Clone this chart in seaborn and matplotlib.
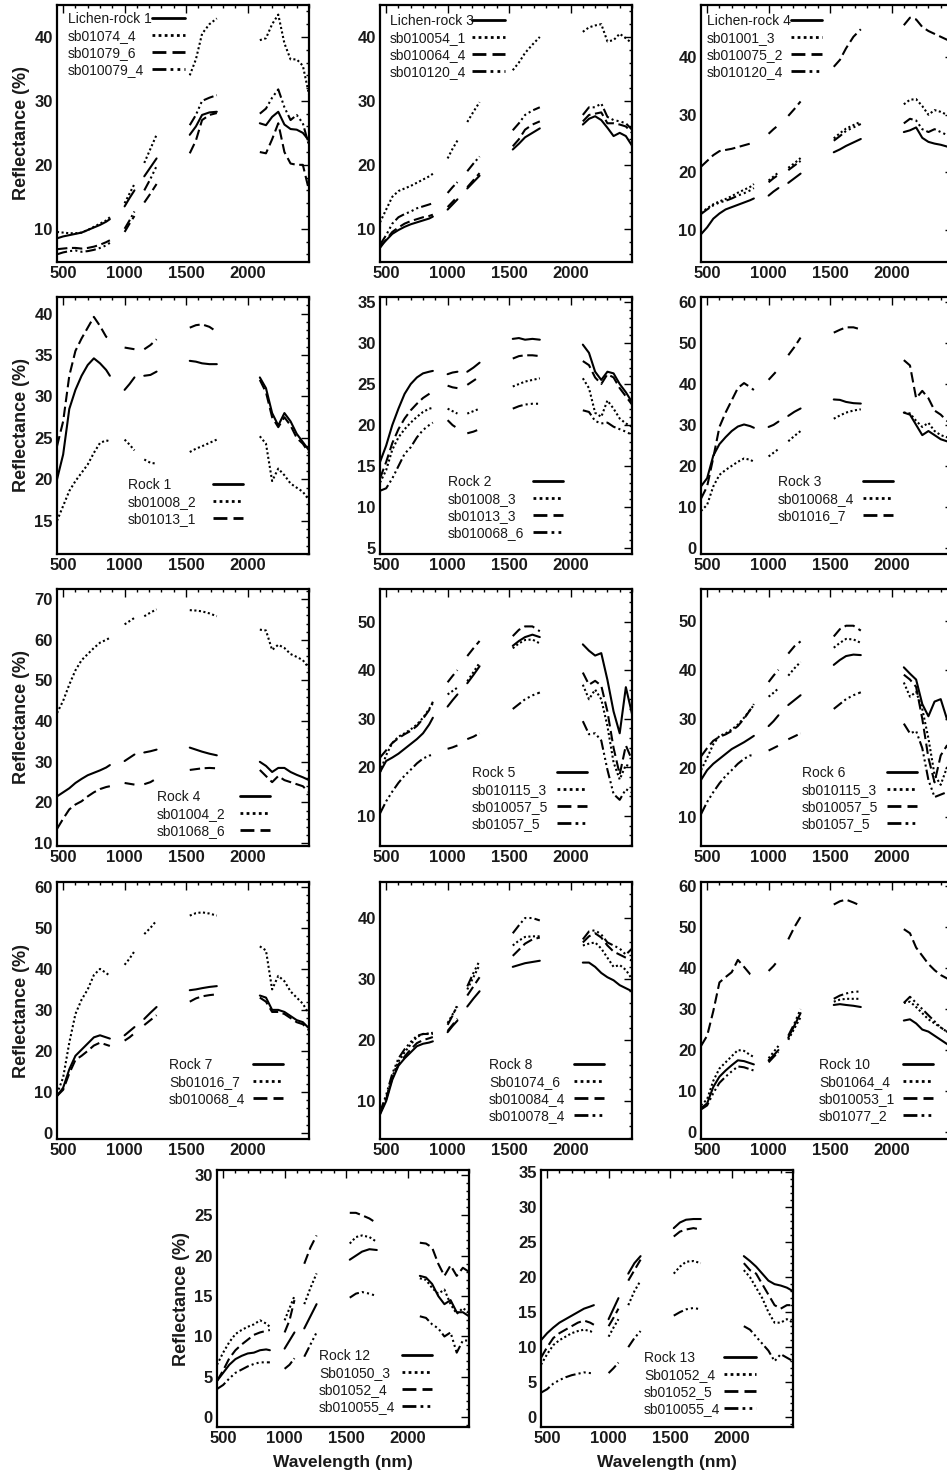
import matplotlib
matplotlib.use("Agg")
import matplotlib.pyplot as plt
from matplotlib.lines import Line2D
from matplotlib.ticker import MultipleLocator
import pandas as pd
import seaborn as sns

# ---------------- data ----------------
WL = [450, 500, 550, 600, 650, 700, 750, 800, 850, 880,
      1000, 1040, 1080,
      1160, 1210, 1260,
      1530, 1580, 1630, 1690, 1750,
      2100, 2150, 2200, 2250, 2300, 2350, 2400, 2450, 2500]
SEG = [1] * 10 + [2] * 3 + [3] * 3 + [4] * 5 + [5] * 9

# Panel 1: Lichen-rock 1
P01_LABELS = ["Lichen-rock 1", "sb01074_4", "sb01079_6", "sb010079_4"]
P01_SOLID = [8.5, 8.8, 9.0, 9.2, 9.4, 9.8, 10.2, 10.6, 11.1, 11.5, 13.5, 14.8, 16.0, 18.2, 19.6, 21.0,
             24.7, 26.0, 27.8, 28.2, 28.3, 26.5, 26.2, 27.5, 28.3, 26.3, 25.6, 25.5, 25.0, 23.8]
P01_DOT = [9.5, 9.4, 9.3, 9.3, 9.4, 9.8, 10.3, 10.8, 11.3, 11.8, 14.0, 15.5, 17.0, 20.3, 22.5, 24.7,
           34.0, 36.5, 40.5, 42.0, 42.9, 39.5, 39.8, 42.0, 43.5, 39.0, 36.5, 36.5, 35.5, 31.0]
P01_DASH = [6.8, 6.9, 7.0, 7.0, 6.9, 7.0, 7.2, 7.5, 7.9, 8.2, 9.5, 10.8, 12.0, 14.1, 15.5, 17.0,
            21.8, 23.8, 27.0, 27.8, 28.1, 22.0, 21.8, 24.0, 26.5, 22.0, 20.2, 20.0, 20.0, 16.0]
P01_DDOT = [6.0, 6.3, 6.5, 6.6, 6.4, 6.5, 6.7, 7.0, 7.4, 7.8, 10.0, 11.3, 12.7, 16.0, 17.8, 19.8,
            26.2, 27.8, 30.0, 30.5, 30.9, 28.0, 28.8, 30.5, 31.8, 29.0, 27.0, 27.8, 26.5, 23.0]

# Panel 2: Lichen-rock 3
P02_LABELS = ["Lichen-rock 3", "sb010054_1", "sb010064_4", "sb010120_4"]
P02_SOLID = [7.3, 8.2, 9.2, 9.8, 10.3, 10.7, 11.0, 11.3, 11.6, 11.9, 13.0, 13.8, 14.6, 16.3, 17.3, 18.3,
             22.4, 23.3, 24.3, 25.0, 25.7, 26.3, 27.2, 27.6, 27.0, 25.8, 24.5, 25.0, 24.5, 23.0]
P02_DOT = [11.0, 13.0, 15.0, 15.9, 16.3, 16.7, 17.2, 17.7, 18.2, 18.6, 21.0, 22.5, 23.8, 26.7, 28.3, 29.8,
           34.8, 36.0, 37.5, 38.8, 40.0, 40.8, 41.5, 41.8, 42.0, 39.3, 39.5, 40.5, 39.8, 39.0]
P02_DASH = [7.0, 8.3, 9.5, 10.2, 10.8, 11.2, 11.5, 11.8, 12.0, 12.2, 13.4, 14.2, 15.0, 16.5, 17.6, 18.7,
            22.9, 24.0, 25.5, 26.3, 26.8, 26.8, 27.8, 28.0, 28.2, 26.5, 26.5, 26.3, 26.0, 25.0]
P02_DDOT = [7.5, 9.0, 10.8, 11.8, 12.3, 12.7, 13.2, 13.5, 13.8, 14.0, 15.6, 16.5, 17.3, 19.0, 20.2, 21.3,
            25.4, 26.5, 27.8, 28.5, 29.0, 27.8, 29.0, 29.0, 29.6, 27.5, 27.0, 26.8, 26.5, 25.5]

# Panel 3: Lichen-rock 4
P03_LABELS = ["Lichen-rock 4", "sb01001_3", "sb010075_2", "sb010120_4"]
P03_SOLID = [9.3, 10.5, 12.0, 12.9, 13.6, 14.0, 14.4, 14.8, 15.2, 15.5, 16.0, 16.7, 17.3, 18.2, 19.0, 19.8,
             23.5, 24.0, 24.6, 25.2, 25.8, 27.0, 27.3, 27.8, 26.0, 25.3, 25.0, 24.8, 24.5, 24.0]
P03_DOT = [13.0, 13.8, 14.5, 15.0, 15.4, 15.9, 16.5, 17.0, 17.5, 18.0, 18.6, 19.3, 20.0, 20.8, 21.6, 22.5,
           25.9, 26.8, 27.6, 28.2, 28.8, 31.8, 32.6, 32.7, 31.5, 30.0, 30.8, 30.5, 30.0, 29.5]
P03_DASH = [21.0, 22.0, 23.0, 23.7, 23.9, 24.1, 24.4, 24.7, 25.0, 25.3, 26.7, 27.5, 28.2, 29.8, 31.0, 32.3,
            38.3, 39.5, 41.5, 43.5, 44.8, 45.5, 46.8, 46.5, 45.2, 44.5, 44.0, 43.5, 43.0, 42.5]
P03_DDOT = [12.8, 13.6, 14.3, 14.8, 15.1, 15.5, 16.0, 16.4, 16.9, 17.3, 18.3, 19.0, 19.6, 20.4, 21.2, 22.0,
            25.5, 26.3, 27.2, 27.8, 28.4, 28.5, 29.3, 29.0, 27.5, 27.0, 27.5, 27.0, 26.5, 26.0]

# Panel 4: Rock 1
P04_LABELS = ["Rock 1", "sb01008_2", "sb01013_1"]
P04_SOLID = [20.0, 23.0, 28.5, 30.8, 32.5, 33.8, 34.6, 34.0, 33.2, 32.5, 30.8, 31.5, 32.3, 32.5, 32.6, 33.0,
             34.3, 34.2, 34.0, 33.9, 33.9, 32.3, 31.0, 28.0, 26.5, 28.0, 27.0, 25.5, 24.5, 23.5]
P04_DOT = [15.0, 16.8, 18.6, 19.8, 20.8, 21.8, 23.2, 24.4, 24.7, 24.6, 24.8, 24.2, 23.5, 22.4, 22.0, 21.9,
           23.3, 23.7, 24.0, 24.4, 24.8, 25.2, 24.3, 19.8, 21.3, 20.5, 19.5, 19.0, 18.5, 17.5]
P04_DASH = [24.0, 27.0, 32.5, 35.5, 37.0, 38.3, 39.6, 38.5, 37.2, 37.0, 35.9, 35.8, 35.7, 35.7, 36.2, 36.9,
            38.3, 38.6, 38.7, 38.4, 37.8, 32.0, 30.5, 27.5, 26.3, 27.5, 26.5, 25.0, 24.3, 23.2]

# Panel 5: Rock 2
P05_LABELS = ["Rock 2", "sb01008_3", "sb01013_3", "sb010068_6"]
P05_SOLID = [15.5, 17.5, 20.0, 22.0, 23.8, 25.0, 25.8, 26.3, 26.5, 26.6, 26.2, 26.4, 26.5, 26.5, 27.0, 27.6,
             30.5, 30.6, 30.4, 30.5, 30.4, 29.8, 28.8, 26.5, 25.5, 26.5, 26.3, 25.0, 24.0, 22.8]
P05_DOT = [13.0, 14.5, 17.0, 18.5, 19.5, 20.3, 21.0, 21.6, 22.0, 22.1, 22.0, 21.7, 21.4, 21.4, 21.7, 22.0,
           24.7, 25.0, 25.3, 25.5, 25.7, 25.7, 24.5, 21.5, 21.0, 23.0, 22.0, 20.8, 20.2, 19.8]
P05_DASH = [13.5, 15.5, 17.8, 19.5, 20.8, 21.8, 22.6, 23.3, 23.8, 24.1, 24.8, 24.6, 24.5, 24.9, 25.4, 25.9,
            28.1, 28.4, 28.5, 28.5, 28.4, 27.8, 27.3, 25.8, 25.0, 26.2, 25.8, 24.5, 23.5, 22.5]
P05_DDOT = [12.0, 12.3, 13.5, 15.0, 16.5, 17.3, 18.5, 19.4, 20.0, 20.3, 20.6, 20.0, 19.6, 19.0, 19.2, 19.5,
            22.0, 22.3, 22.5, 22.6, 22.6, 21.8, 21.6, 20.5, 20.2, 20.3, 19.8, 19.5, 19.2, 18.8]

# Panel 6: Rock 3
P06_LABELS = ["Rock 3", "sb010068_4", "sb01016_7"]
P06_SOLID = [15.0, 17.0, 22.5, 25.3, 27.0, 28.5, 29.6, 30.1, 29.7, 29.3, 29.5, 30.0, 30.8, 32.2, 33.2, 34.0,
             36.2, 36.1, 35.6, 35.3, 35.2, 33.0, 32.5, 30.0, 27.5, 28.5, 27.5, 26.5, 26.0, 25.5]
P06_DOT = [9.0, 10.5, 15.0, 17.8, 19.0, 20.0, 21.0, 21.8, 21.5, 21.0, 22.3, 23.2, 24.1, 26.0, 27.3, 28.5,
           31.5, 32.3, 33.0, 33.5, 33.8, 33.0, 32.8, 31.0, 29.5, 30.5, 28.5, 27.5, 27.0, 26.5]
P06_DASH = [12.0, 15.0, 22.0, 29.5, 33.0, 36.0, 39.0, 40.2, 39.2, 38.5, 41.0, 42.3, 43.6, 47.0, 49.0, 51.3,
            52.5, 53.2, 53.8, 53.8, 53.3, 45.8, 44.5, 36.5, 38.3, 36.5, 33.5, 32.5, 31.0, 30.0]

# Panel 7: Rock 4
P07_LABELS = ["Rock 4", "sb01004_2", "sb01068_6"]
P07_SOLID = [21.5, 22.5, 23.5, 24.8, 25.8, 26.7, 27.3, 27.9, 28.6, 29.2, 30.2, 31.0, 31.8, 32.3, 32.6, 33.0,
             33.5, 33.0, 32.5, 32.0, 31.6, 30.0, 29.0, 27.5, 28.5, 28.5, 27.5, 26.8, 26.2, 25.5]
P07_DOT = [42.0, 45.0, 49.0, 52.5, 55.0, 56.5, 58.0, 59.3, 60.0, 60.5, 63.8, 64.6, 65.4, 65.8, 66.7, 67.5,
           67.3, 67.2, 67.0, 66.5, 65.8, 62.5, 62.3, 57.5, 58.8, 58.0, 56.5, 55.8, 55.0, 53.0]
P07_DASH = [13.5, 16.0, 18.3, 19.5, 20.3, 21.5, 22.5, 23.3, 23.8, 24.0, 24.8, 24.6, 24.4, 24.5, 25.0, 25.9,
            28.0, 28.2, 28.4, 28.5, 28.4, 28.0, 26.5, 25.0, 26.5, 25.5, 25.0, 24.5, 24.0, 22.5]

# Panel 8: Rock 5
P08_LABELS = ["Rock 5", "sb010115_3", "sb010057_5", "sb01057_5"]
P08_SOLID = [19.0, 21.3, 22.0, 22.8, 23.8, 24.8, 25.8, 27.0, 28.8, 30.2, 32.5, 33.8, 35.0, 37.3, 39.0, 40.8,
             45.0, 46.0, 46.8, 47.3, 46.8, 45.3, 44.0, 43.0, 43.5, 38.0, 31.5, 27.0, 36.5, 31.0]
P08_DOT = [19.0, 22.5, 25.0, 26.3, 27.0, 27.8, 28.8, 30.2, 32.0, 33.2, 35.0, 35.7, 36.4, 37.7, 39.6, 41.5,
           44.5, 45.5, 46.2, 46.3, 45.5, 37.0, 34.0, 36.0, 34.0, 28.5, 21.0, 17.5, 20.5, 20.0]
P08_DASH = [22.0, 23.5, 25.0, 26.0, 26.8, 27.5, 28.5, 30.0, 31.8, 33.5, 37.5, 38.8, 40.0, 42.9, 44.5, 46.0,
            47.0, 48.3, 49.0, 49.0, 48.0, 39.5, 37.0, 37.8, 36.8, 31.5, 24.0, 18.5, 24.5, 21.5]
P08_DDOT = [10.5, 13.0, 15.0, 16.8, 18.3, 19.5, 20.8, 21.8, 22.4, 22.6, 23.8, 24.1, 24.5, 25.8, 26.3, 27.0,
            32.0, 33.0, 34.0, 34.8, 35.4, 29.5, 26.8, 27.0, 25.5, 19.5, 14.5, 13.3, 15.5, 14.8]

# Panel 9: Rock 6
P09_LABELS = ["Rock 6", "sb010115_3", "sb010057_5", "sb01057_5"]
P09_SOLID = [17.5, 19.5, 20.8, 21.8, 22.8, 23.8, 24.5, 25.2, 26.0, 26.5, 28.5, 29.5, 30.7, 32.8, 33.8, 34.8,
             41.0, 42.0, 42.8, 43.1, 43.0, 40.5, 39.2, 38.0, 33.0, 30.5, 33.5, 34.0, 30.0, 28.0]
P09_DOT = [19.5, 22.0, 24.8, 26.5, 27.0, 27.8, 28.8, 30.2, 31.8, 32.8, 34.5, 35.3, 36.2, 38.8, 40.3, 41.6,
           44.5, 45.5, 46.3, 46.2, 45.5, 37.4, 34.5, 35.5, 32.0, 26.0, 18.5, 16.5, 20.0, 19.0]
P09_DASH = [22.3, 24.0, 25.5, 26.3, 26.8, 27.5, 28.5, 30.0, 31.8, 33.0, 37.5, 38.8, 40.0, 43.3, 44.8, 45.8,
            46.8, 48.3, 49.0, 49.0, 48.0, 39.0, 38.0, 36.5, 30.0, 22.0, 17.0, 22.5, 24.5, 22.0]
P09_DDOT = [10.5, 13.0, 15.0, 16.8, 18.3, 19.5, 20.8, 21.8, 22.5, 22.5, 23.5, 24.0, 24.5, 25.8, 26.4, 27.0,
            32.0, 33.0, 34.0, 34.8, 35.4, 29.0, 27.0, 27.5, 24.0, 17.5, 14.0, 14.5, 15.0, 14.5]

# Panel 10: Rock 7
P10_LABELS = ["Rock 7", "Sb01016_7", "sb010068_4"]
P10_SOLID = [9.0, 11.0, 15.5, 18.8, 20.3, 21.8, 23.3, 23.8, 23.3, 23.0, 23.8, 24.8, 25.8, 27.8, 29.3, 30.7,
             34.8, 35.0, 35.3, 35.6, 35.8, 33.5, 33.0, 30.0, 30.0, 29.5, 28.5, 27.5, 27.0, 25.5]
P10_DOT = [9.5, 13.5, 22.0, 29.0, 32.5, 35.0, 38.5, 40.0, 39.0, 38.3, 41.0, 42.5, 44.3, 48.5, 50.0, 51.8,
           53.0, 53.6, 53.8, 53.5, 53.0, 45.5, 44.5, 35.0, 38.3, 37.0, 34.5, 33.0, 31.5, 29.0]
P10_DASH = [9.0, 10.5, 14.5, 17.8, 18.8, 20.0, 21.3, 22.0, 21.5, 21.2, 22.5, 23.3, 24.3, 26.3, 27.5, 28.7,
            32.0, 32.8, 33.3, 33.6, 33.8, 33.0, 32.0, 29.5, 29.5, 29.0, 28.0, 27.0, 26.5, 25.0]

# Panel 11: Rock 8
P11_LABELS = ["Rock 8", "Sb01074_6", "sb010084_4", "sb010078_4"]
P11_SOLID = [7.8, 10.0, 13.5, 15.8, 17.0, 18.0, 19.0, 19.4, 19.6, 19.8, 21.3, 22.3, 23.2, 25.5, 26.8, 28.0,
             32.0, 32.3, 32.6, 32.8, 33.0, 32.7, 32.7, 32.0, 31.0, 30.3, 29.8, 29.0, 28.5, 28.0]
P11_DOT = [8.0, 10.5, 14.0, 16.5, 18.0, 19.3, 20.5, 21.0, 21.1, 21.2, 22.8, 24.2, 25.5, 28.3, 30.3, 32.3,
           35.5, 36.3, 36.9, 37.0, 37.0, 35.5, 35.8, 36.0, 35.0, 33.5, 32.0, 32.3, 31.5, 30.0]
P11_DASH = [8.0, 10.3, 13.8, 16.0, 17.3, 18.5, 19.5, 20.0, 20.3, 20.5, 21.5, 22.5, 23.5, 27.3, 28.8, 30.3,
            33.8, 34.8, 35.8, 36.5, 36.8, 36.0, 37.0, 37.5, 36.8, 35.5, 34.5, 34.0, 33.5, 33.0]
P11_DDOT = [8.2, 11.0, 14.5, 17.0, 18.5, 19.7, 20.7, 21.0, 21.0, 21.0, 22.5, 24.0, 25.8, 28.8, 31.0, 33.0,
            37.5, 38.8, 40.0, 40.0, 39.6, 36.5, 37.8, 38.0, 37.3, 36.0, 35.5, 35.0, 34.0, 35.0]

# Panel 12: Rock 10
P12_LABELS = ["Rock 10", "Sb01064_4", "sb010053_1", "sb01077_2"]
P12_SOLID = [5.8, 7.0, 11.0, 13.5, 15.0, 16.3, 17.5, 17.3, 16.8, 16.5, 17.5, 18.7, 20.0, 23.0, 26.0, 29.0,
             31.0, 31.2, 31.0, 30.8, 30.5, 27.2, 27.5, 26.5, 25.0, 24.5, 23.5, 22.5, 21.5, 20.5]
P12_DOT = [6.5, 8.0, 12.5, 15.5, 17.0, 18.5, 20.0, 19.8, 18.8, 18.3, 18.0, 19.5, 21.0, 22.5, 25.3, 28.0,
           31.8, 32.3, 32.5, 32.5, 32.5, 31.5, 31.8, 30.5, 29.0, 27.5, 26.5, 25.5, 24.5, 23.5]
P12_DASH = [21.0, 23.5, 29.5, 36.5, 37.8, 39.0, 42.0, 40.3, 38.5, 38.0, 39.3, 40.5, 42.0, 47.0, 50.0, 52.5,
            55.5, 56.3, 56.7, 56.0, 55.2, 49.5, 48.5, 45.0, 43.0, 41.0, 39.5, 38.3, 37.5, 36.5]
P12_DDOT = [5.5, 6.5, 9.5, 12.0, 13.5, 14.8, 16.0, 15.8, 15.3, 15.0, 17.0, 18.3, 19.5, 23.5, 26.5, 30.0,
            32.5, 33.3, 33.8, 34.2, 34.3, 31.5, 33.0, 31.5, 30.0, 28.5, 27.0, 25.5, 24.5, 23.5]

# Panel 13: Rock 12
P13_LABELS = ["Rock 12", "Sb01050_3", "sb01052_4", "sb010055_4"]
P13_SOLID = [4.5, 5.5, 6.5, 7.2, 7.6, 7.9, 8.0, 8.3, 8.4, 8.3, 8.5, 9.5, 10.5, 11.0, 12.5, 14.0,
             19.5, 20.0, 20.5, 20.8, 20.7, 17.5, 17.3, 16.5, 15.0, 14.0, 14.5, 13.0, 13.0, 12.5]
P13_DOT = [6.5, 8.0, 9.3, 10.3, 10.8, 11.2, 11.5, 12.0, 11.6, 11.2, 12.0, 13.5, 15.0, 14.0, 16.0, 17.8,
           21.5, 22.3, 22.5, 22.3, 21.7, 17.2, 17.0, 16.0, 15.3, 15.8, 14.0, 12.8, 13.5, 13.0]
P13_DASH = [4.5, 5.8, 7.3, 8.3, 9.0, 9.6, 10.2, 10.5, 10.7, 10.8, 10.5, 12.0, 14.5, 19.0, 21.0, 22.5,
            25.3, 25.3, 25.0, 24.6, 24.0, 21.6, 21.5, 21.0, 19.0, 17.5, 18.8, 17.5, 18.5, 18.0]
P13_DDOT = [3.5, 4.0, 4.8, 5.5, 5.9, 6.3, 6.6, 6.8, 6.8, 6.8, 6.0, 6.5, 7.3, 7.5, 9.0, 10.5,
            14.8, 15.3, 15.5, 15.3, 15.0, 12.5, 12.3, 11.5, 11.0, 10.0, 10.5, 8.0, 9.5, 9.5]

# Panel 14: Rock 13
P14_LABELS = ["Rock 13", "Sb01052_4", "sb01052_5", "sb010055_4"]
P14_SOLID = [11.0, 12.0, 12.8, 13.5, 14.0, 14.5, 15.0, 15.5, 15.8, 16.0, 14.0, 15.5, 17.0, 20.5, 22.0, 23.0,
             27.0, 27.8, 28.2, 28.3, 28.3, 23.0, 22.3, 21.5, 20.5, 19.5, 19.0, 18.8, 18.5, 18.0]
P14_DOT = [7.5, 9.0, 10.3, 11.0, 11.5, 12.0, 12.3, 12.5, 12.3, 12.0, 11.5, 12.8, 14.0, 16.0, 18.0, 19.5,
           20.5, 21.5, 22.2, 22.3, 22.0, 21.0, 20.0, 18.5, 17.0, 15.0, 13.5, 13.5, 14.0, 13.5]
P14_DASH = [8.5, 10.0, 11.3, 12.0, 12.5, 13.0, 13.5, 13.8, 13.5, 13.2, 13.0, 14.2, 15.5, 19.5, 21.0, 22.5,
            25.8, 26.5, 26.8, 27.0, 26.8, 22.0, 21.0, 20.5, 19.0, 17.5, 16.0, 15.5, 16.0, 16.0]
P14_DDOT = [3.5, 4.0, 4.8, 5.3, 5.7, 6.0, 6.2, 6.4, 6.3, 6.3, 6.3, 7.0, 7.8, 10.0, 11.3, 12.3,
            14.5, 15.0, 15.4, 15.6, 15.4, 13.0, 12.5, 11.5, 10.5, 9.5, 8.0, 9.0, 8.5, 8.0]

X_TICKS = [500, 1000, 1500, 2000]

# ---------------- styling / layout ----------------
sns.set_theme(style="white")
plt.rcParams['font.family'] = ['Liberation Sans', 'DejaVu Sans']

STYLE_ORDER = ["solid", "dot", "dash", "ddot"]
DASHES = {"solid": "", "dot": (1.0, 1.2), "dash": (5.0, 2.2),
          "ddot": (5.0, 1.5, 1.0, 1.5, 1.0, 1.5, 1.0, 1.5)}

FIG_W, FIG_H = 947, 1478
PW, PH = 252, 257

# (labels, series, ylim, yticks, yminor, left_px, top_px, legend(dx, dy, hx, hl), ylabel, xlabel)
PANELS = [
    (P01_LABELS, [P01_SOLID, P01_DOT, P01_DASH, P01_DDOT], (4.8, 45), range(10, 41, 10), 2, 57, 5, (11, 7, 128, 33), True, False),
    (P02_LABELS, [P02_SOLID, P02_DOT, P02_DASH, P02_DDOT], (4.8, 45), range(10, 41, 10), 2, 380, 5, (10, 9, 125, 33), False, False),
    (P03_LABELS, [P03_SOLID, P03_DOT, P03_DASH, P03_DDOT], (4.5, 49), range(10, 41, 10), 2, 701, 5, (6, 9, 121, 31), False, False),
    (P04_LABELS, [P04_SOLID, P04_DOT, P04_DASH], (11, 42), range(15, 41, 5), 1, 57, 297, (71, 181, 186, 30), True, False),
    (P05_LABELS, [P05_SOLID, P05_DOT, P05_DASH, P05_DDOT], (4.3, 35.6), range(5, 36, 5), 1, 380, 297, (68, 178, 183, 30), False, False),
    (P06_LABELS, [P06_SOLID, P06_DOT, P06_DASH], (-1.5, 61.2), range(0, 61, 10), 2, 701, 297, (77, 178, 192, 30), False, False),
    (P07_LABELS, [P07_SOLID, P07_DOT, P07_DASH], (9.3, 72.5), range(10, 71, 10), 2, 57, 589, (100, 201, 213, 30), True, False),
    (P08_LABELS, [P08_SOLID, P08_DOT, P08_DASH, P08_DDOT], (3.8, 56.7), range(10, 51, 10), 2, 380, 589, (92, 177, 207, 30), False, False),
    (P09_LABELS, [P09_SOLID, P09_DOT, P09_DASH, P09_DDOT], (4.0, 56.5), range(10, 51, 10), 2, 701, 589, (101, 177, 216, 30), False, False),
    (P10_LABELS, [P10_SOLID, P10_DOT, P10_DASH], (-1.5, 61.2), range(0, 61, 10), 2, 57, 882, (112, 176, 226, 30), True, False),
    (P11_LABELS, [P11_SOLID, P11_DOT, P11_DASH, P11_DDOT], (3.8, 45.9), range(10, 41, 10), 2, 380, 882, (109, 176, 224, 30), False, False),
    (P12_LABELS, [P12_SOLID, P12_DOT, P12_DASH, P12_DDOT], (-1.7, 61), range(0, 61, 10), 2, 701, 882, (118, 176, 232, 30), False, False),
    (P13_LABELS, [P13_SOLID, P13_DOT, P13_DASH, P13_DDOT], (-1.2, 30.6), range(0, 31, 5), 1, 217, 1170, (102, 179, 215, 30), True, True),
    (P14_LABELS, [P14_SOLID, P14_DOT, P14_DASH, P14_DDOT], (-1.4, 35.3), range(0, 36, 5), 1, 541, 1170, (103, 181, 215, 32), False, True),
]

LEG_FS = 10
LEG_FS_PX = LEG_FS * 100 / 72.0
TEXT_COLOR = "#1a1a1a"

fig = plt.figure(figsize=(FIG_W / 100, FIG_H / 100), dpi=100)
fig.patch.set_facecolor("white")

for labels, series, ylim, yticks, yminor, lpx, tpx, leg, ylab, xlab in PANELS:
    ax = fig.add_axes([lpx / FIG_W, 1 - (tpx + PH) / FIG_H, PW / FIG_W, PH / FIG_H])
    rows = []
    for lab, vals in zip(labels, series):
        for w, s, v in zip(WL, SEG, vals):
            rows.append({"wl": w, "refl": v, "series": lab, "seg": s})
    df = pd.DataFrame(rows)
    dmap = {lab: DASHES[st] for lab, st in zip(labels, STYLE_ORDER)}
    sns.lineplot(data=df, x="wl", y="refl", style="series", units="seg", estimator=None,
                 dashes=dmap, style_order=labels, color="black", lw=1.5, legend=False, ax=ax)

    ax.set_xlim(450, 2500)
    ax.set_ylim(*ylim)
    ax.set_xticks(X_TICKS, labels=[str(t) for t in X_TICKS], fontweight="bold", fontsize=12, color=TEXT_COLOR)
    ax.set_yticks(list(yticks), labels=[str(t) for t in yticks], fontweight="bold", fontsize=12, color=TEXT_COLOR)
    ax.xaxis.set_minor_locator(MultipleLocator(100))
    ax.yaxis.set_minor_locator(MultipleLocator(yminor))
    ax.tick_params(which="both", direction="in", top=True, right=True, color="black", width=1.0)
    ax.tick_params(which="major", length=5.5, pad=3)
    ax.tick_params(which="minor", length=2.5)
    for sp in ax.spines.values():
        sp.set_linewidth(1.6)
        sp.set_color("black")
    ax.set_xlabel("Wavelength (nm)" if xlab else "", fontweight="bold", fontsize=12.5, labelpad=6, color=TEXT_COLOR)
    ax.set_ylabel("Reflectance (%)" if ylab else "", fontweight="bold", fontsize=13, labelpad=3, color=TEXT_COLOR)
    ax.grid(False)

    # legend: text on the left (left-aligned), line sample at the right end of each row
    dx, dy, hx, hl = leg
    handles = []
    for st in STYLE_ORDER[:len(labels)]:
        if st == "solid":
            handles.append(Line2D([], [], color="black", lw=2.0, ls="-"))
        else:
            handles.append(Line2D([], [], color="black", lw=2.0, dashes=DASHES[st]))
    lg = ax.legend(handles, labels, loc="upper left", bbox_to_anchor=(dx / PW, 1 - dy / PH),
                   frameon=False, borderpad=0, borderaxespad=0, fontsize=LEG_FS,
                   labelspacing=0.22, handlelength=hl / LEG_FS_PX, handletextpad=0.3,
                   markerfirst=False, labelcolor=TEXT_COLOR)
    try:
        for col in lg._legend_handle_box.get_children():
            for item in col.get_children():
                item.mode = "expand"
                item.width = float(hx - dx)
    except Exception:
        pass

fig.savefig("out.png", dpi=100, facecolor="white")
